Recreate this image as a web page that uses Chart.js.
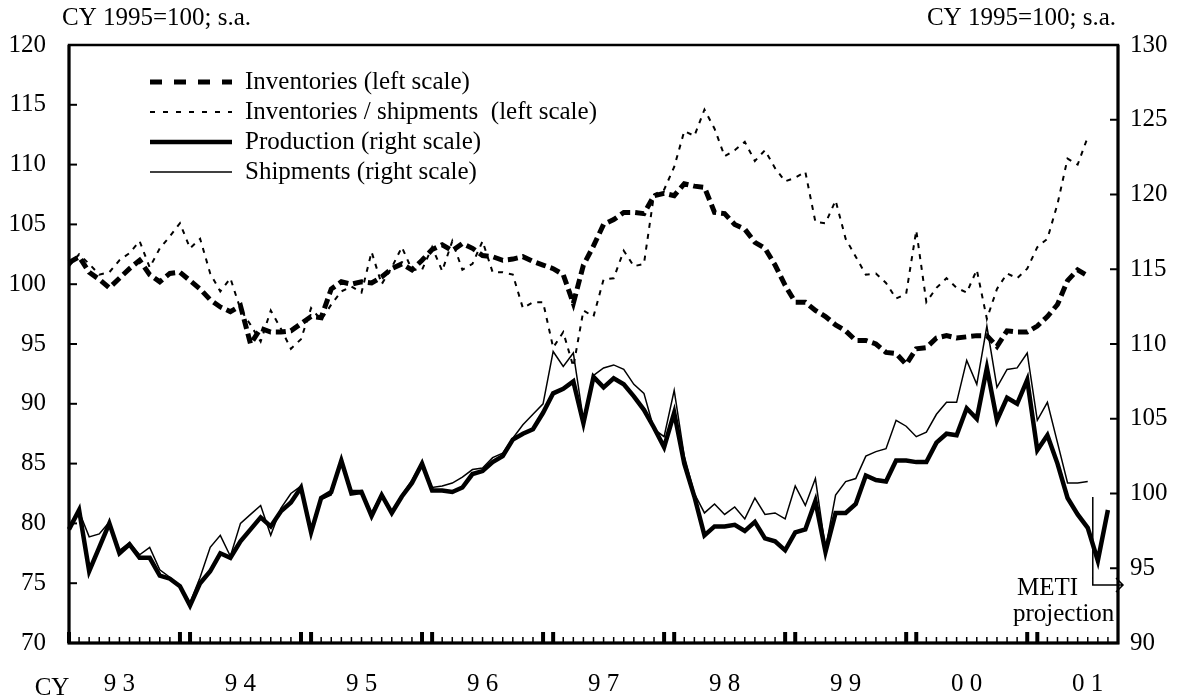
<!DOCTYPE html>
<html>
<head>
<meta charset="utf-8">
<title>Inventories, production and shipments</title>
<script src="https://cdn.jsdelivr.net/npm/chart.js@4.4.1/dist/chart.umd.min.js"></script>
<style>
  html, body { margin: 0; padding: 0; background: #fff; }
  #wrap { width: 1182px; height: 697px; }
</style>
</head>
<body>
<div id="wrap"><canvas id="mainChart" width="1182" height="697"></canvas></div>
<script>
// months Jan 1993 .. Sep 2001 (axis runs one slot past the last point)
const years = ['1993', '1994', '1995', '1996', '1997', '1998', '1999', '2000', '2001'];
const yearLabels = ['9 3', '9 4', '9 5', '9 6', '9 7', '9 8', '9 9', '0 0', '0 1'];
const months = [];
years.forEach(y => {
    for (let m = 1; m <= 12; m++) {
        if (y === '2001' && m > 9) break;
        months.push(y + '/' + m);
    }
});

const leftTicks = [70, 75, 80, 85, 90, 95, 100, 105, 110, 115, 120];
const rightTicks = [90, 95, 100, 105, 110, 115, 120, 125, 130];
const unitLabel = 'CY 1995=100; s.a.';

// left scale
const inventories = [
    101.8, 102.3, 101.0, 100.4, 99.7, 100.5, 101.3, 102.0, 100.8, 100.2, 100.9, 101.0,
    100.3, 99.6, 98.7, 98.1, 97.7, 98.2, 95.0, 96.3, 96.0, 96.0, 96.1, 96.7,
    97.3, 97.2, 99.6, 100.2, 100.0, 100.2, 100.1, 100.6, 101.3, 101.7, 101.2, 102.0,
    102.9, 103.3, 102.8, 103.4, 103.0, 102.4, 102.3, 102.0, 102.1, 102.3, 101.9, 101.6,
    101.3, 100.8, 98.4, 101.6, 103.2, 105.0, 105.4, 106.0, 106.0, 105.9, 107.4, 107.6,
    107.4, 108.4, 108.2, 108.1, 106.0, 105.9, 105.0, 104.6, 103.5, 103.0, 101.6, 99.9,
    98.5, 98.5, 97.8, 97.3, 96.6, 96.1, 95.3, 95.3, 95.0, 94.3, 94.2, 93.3,
    94.6, 94.7, 95.5, 95.7, 95.5, 95.6, 95.7, 95.7, 94.8, 96.1, 96.0, 96.0,
    96.5, 97.3, 98.3, 100.3, 101.2, 100.7
];
const invShipRatio = [
    101.5, 102.5, 101.7, 100.8, 101.0, 102.0, 102.6, 103.6, 101.4, 103.0, 104.0, 105.1,
    103.0, 103.8, 100.9, 99.4, 100.5, 97.9, 96.6, 95.2, 97.8, 96.3, 94.6, 95.4,
    98.0, 97.0, 98.3, 99.4, 99.8, 99.3, 102.7, 100.0, 101.4, 103.1, 101.2, 101.2,
    103.1, 101.1, 103.6, 101.2, 101.7, 103.6, 101.0, 101.0, 100.8, 98.0, 98.5, 98.5,
    94.7, 96.0, 93.1, 97.8, 97.3, 100.4, 100.5, 102.8, 101.5, 101.7, 107.5, 107.9,
    109.8, 112.8, 112.4, 114.6, 113.0, 110.7, 111.2, 111.9, 110.3, 111.2, 109.7, 108.6,
    108.9, 109.4, 105.2, 105.1, 107.0, 103.8, 102.3, 100.8, 100.9, 100.1, 98.8, 99.2,
    104.5, 98.5, 99.7, 100.5, 99.7, 99.3, 101.2, 97.1, 99.6, 100.9, 100.5, 101.3,
    103.1, 103.8, 106.7, 110.5, 110.0, 112.3
];
// right scale; last two production months are the METI projection
const production = [
    97.6, 98.9, 94.8, 96.4, 98.0, 96.0, 96.6, 95.7, 95.7, 94.5, 94.3, 93.8,
    92.5, 94.0, 94.8, 96.0, 95.7, 96.8, 97.6, 98.4, 97.8, 98.8, 99.4, 100.4,
    97.4, 99.7, 100.1, 102.2, 100.0, 100.1, 98.5, 99.9, 98.7, 99.8, 100.7, 102.0,
    100.2, 100.2, 100.1, 100.4, 101.3, 101.5, 102.1, 102.5, 103.6, 104.0, 104.3, 105.4,
    106.7, 107.0, 107.5, 104.7, 107.8, 107.1, 107.7, 107.3, 106.5, 105.6, 104.4, 103.1,
    105.4, 102.0, 99.8, 97.2, 97.8, 97.8, 97.9, 97.5, 98.1, 97.0, 96.8, 96.2,
    97.4, 97.6, 99.5, 96.1, 98.7, 98.7, 99.3, 101.2, 100.9, 100.8, 102.2, 102.2,
    102.1, 102.1, 103.4, 104.0, 103.9, 105.7, 105.0, 108.4, 104.9, 106.4, 106.0, 107.6,
    102.9, 103.9, 102.0, 99.7, 98.6, 97.7, 95.5, 98.9
];
const shipments = [
    97.9, 98.8, 97.1, 97.3, 98.1, 96.2, 96.7, 95.9, 96.4, 94.9, 94.4, 93.8,
    92.7, 94.4, 96.4, 97.2, 95.8, 98.0, 98.6, 99.2, 97.2, 99.0, 100.0, 100.5,
    97.7, 99.6, 99.9, 102.3, 100.2, 100.2, 98.7, 100.0, 98.8, 99.9, 100.9, 102.1,
    100.4, 100.5, 100.7, 101.1, 101.6, 101.7, 102.4, 102.7, 103.7, 104.6, 105.3, 106.0,
    109.5, 108.5, 109.4, 104.9, 107.9, 108.4, 108.6, 108.3, 107.3, 106.7, 104.3, 103.8,
    106.9, 102.5, 100.0, 98.7, 99.3, 98.6, 99.1, 98.3, 99.7, 98.6, 98.7, 98.3,
    100.5, 99.2, 101.0, 96.3, 99.9, 100.8, 101.0, 102.5, 102.8, 103.0, 104.9, 104.5,
    103.8, 104.1, 105.3, 106.1, 106.1, 108.9, 107.3, 111.2, 107.1, 108.3, 108.4, 109.4,
    104.9, 106.1, 103.4, 100.7, 100.7, 100.8
];

const FONT = "'Liberation Serif', 'Times New Roman', serif";
Chart.defaults.font.family = FONT;
Chart.defaults.font.size = 25;
Chart.defaults.color = '#000';

// frame, inward tick marks, legend and notes
const decor = {
    id: 'decor',
    afterDraw(chart) {
        const ctx = chart.ctx;
        const a = chart.chartArea;
        const x = chart.scales.x, y = chart.scales.y, y2 = chart.scales.y2;
        ctx.save();
        ctx.strokeStyle = '#000';
        ctx.fillStyle = '#000';

        ctx.lineWidth = 2.5;
        ctx.strokeRect(a.left, a.top, a.right - a.left, a.bottom - a.top);
        ctx.lineWidth = 3;
        ctx.beginPath();
        ctx.moveTo(a.left, a.top); ctx.lineTo(a.left, a.bottom); ctx.lineTo(a.right, a.bottom); ctx.lineTo(a.right, a.top);
        ctx.stroke();

        months.forEach((m, i) => {
            const px = x.getPixelForValue(i);
            const thick = i % 12 === 0 || i % 12 === 11;
            ctx.lineWidth = thick ? 4 : 1.5;
            ctx.beginPath();
            ctx.moveTo(px, a.bottom);
            ctx.lineTo(px, a.bottom - (thick ? 11 : 6));
            ctx.stroke();
        });
        ctx.lineWidth = 2;
        leftTicks.forEach(v => {
            const py = y.getPixelForValue(v);
            ctx.beginPath(); ctx.moveTo(a.left, py); ctx.lineTo(a.left + 8, py); ctx.stroke();
        });
        rightTicks.forEach(v => {
            const py = y2.getPixelForValue(v);
            ctx.beginPath(); ctx.moveTo(a.right, py); ctx.lineTo(a.right - 8, py); ctx.stroke();
        });

        ctx.font = '25px ' + FONT;
        ctx.textBaseline = 'middle';
        ctx.textAlign = 'left';
        ctx.fillText(unitLabel, 62, 18);
        ctx.textAlign = 'right';
        ctx.fillText(unitLabel, 1116, 18);
        ctx.textAlign = 'center';
        ctx.fillText('CY', 52, 688);

        // legend
        const legendDash = [[12, 12], [5, 8], [], []];
        chart.data.datasets.forEach((ds, k) => {
            const ly = 82 + k * 30;
            ctx.lineWidth = ds.borderWidth;
            ctx.setLineDash(legendDash[k]);
            ctx.beginPath(); ctx.moveTo(150, ly); ctx.lineTo(232, ly); ctx.stroke();
            ctx.setLineDash([]);
            ctx.textAlign = 'left';
            ctx.fillText(ds.label, 245, ly);
        });

        // METI projection marker
        const xp = (x.getPixelForValue(101) + x.getPixelForValue(102)) / 2;
        const ay = 585;
        ctx.lineWidth = 1.5;
        ctx.beginPath();
        ctx.moveTo(xp, 497); ctx.lineTo(xp, ay); ctx.lineTo(a.right + 5, ay);
        ctx.moveTo(a.right - 2, ay - 7); ctx.lineTo(a.right + 5, ay); ctx.lineTo(a.right - 2, ay + 7);
        ctx.stroke();
        ctx.textAlign = 'left';
        ctx.textBaseline = 'alphabetic';
        ctx.fillText('METI', 1017, 595);
        ctx.fillText('projection', 1013, 621);
        ctx.restore();
    }
};

const ctx = document.getElementById('mainChart').getContext('2d');
const mainChart = new Chart(ctx, {
    type: 'line',
    data: {
        labels: months,
        datasets: [{
            label: 'Inventories (left scale)',
            data: inventories,
            yAxisID: 'y',
            borderColor: '#000',
            borderWidth: 5,
            borderDash: [10, 5]
        }, {
            label: 'Inventories / shipments  (left scale)',
            data: invShipRatio,
            yAxisID: 'y',
            borderColor: '#000',
            borderWidth: 2,
            borderDash: [5, 6]
        }, {
            label: 'Production (right scale)',
            data: production,
            yAxisID: 'y2',
            borderColor: '#000',
            borderWidth: 4.5
        }, {
            label: 'Shipments (right scale)',
            data: shipments,
            yAxisID: 'y2',
            borderColor: '#000',
            borderWidth: 1.5
        }]
    },
    options: {
        responsive: false,
        animation: false,
        layout: { padding: { top: 45, left: 0, right: 0, bottom: 0 } },
        elements: { point: { radius: 0 }, line: { tension: 0, fill: false } },
        plugins: {
            legend: { display: false },
            tooltip: { enabled: false }
        },
        scales: {
            x: {
                type: 'category',
                offset: false,
                grid: { display: false, drawTicks: false },
                border: { display: false },
                ticks: {
                    autoSkip: false,
                    maxRotation: 0,
                    padding: 26,
                    callback: function(val, i) {
                        return i % 12 === 5 ? yearLabels[Math.floor(i / 12)] : '';
                    }
                },
                afterFit: function(s) { s.height = 54; }
            },
            y: {
                position: 'left',
                min: 70,
                max: 120,
                grid: { display: false, drawTicks: false },
                border: { display: false },
                ticks: { stepSize: 5, padding: 23 },
                afterFit: function(s) { s.width = 69; }
            },
            y2: {
                position: 'right',
                min: 90,
                max: 130,
                grid: { display: false, drawTicks: false },
                border: { display: false },
                ticks: { stepSize: 5, padding: 12 },
                afterFit: function(s) { s.width = 64; }
            }
        }
    },
    plugins: [decor]
});
</script>
</body>
</html>
